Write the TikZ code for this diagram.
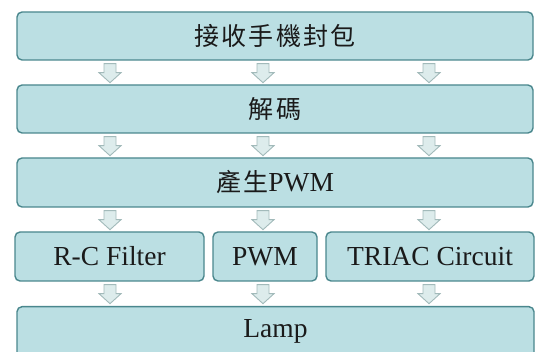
\documentclass[tikz,border=0pt]{standalone}
\usepackage{fontspec}
\setmainfont{Liberation Serif}
\newfontfamily\cjk[LetterSpace=9]{Noto Sans CJK TC}
\usetikzlibrary{calc}
\definecolor{boxfill}{HTML}{BBDFE3}
\definecolor{boxline}{HTML}{4A878D}
\definecolor{arrfill}{HTML}{DDECEC}
\definecolor{arrline}{HTML}{A2BABA}
\definecolor{txt}{HTML}{1A1A1A}
\tikzset{
  box/.style={draw=boxline, fill=boxfill, line width=1.4pt, rounded corners=5pt,
    inner sep=0pt, text=txt, font=\fontsize{27.5pt}{30pt}\selectfont},
  cjkfont/.style={},
  blockarrow/.pic={
    \draw[draw=arrline, fill=arrfill, line width=0.9pt, line join=miter]
      (-6,0) -- (6,0) -- (6,9) -- (11,9) -- (0,19) -- (-11,9) -- (-6,9) -- cycle;
  }
}
\newcommand{\cjkt}[1]{{\cjk\fontsize{25pt}{28pt}\selectfont #1}}
\begin{document}
\begin{tikzpicture}[x=1pt,y=-1pt]
\useasboundingbox (0,0) rectangle (539,352);
\clip (0,0) rectangle (539,352);
\node[box, minimum width=516pt, minimum height=48pt] (b1) at (275,36) {\cjkt{接收手機封包}};
\node[box, minimum width=516pt, minimum height=48pt] (b2) at (275,109) {\cjkt{解碼}};
\node[box, minimum width=516pt, minimum height=49pt] (b3) at (275,182.5) {\cjkt{產生}PWM};
\node[box, minimum width=189pt, minimum height=49pt] (rc) at (109.5,256.5) {R-C Filter};
\node[box, minimum width=104pt, minimum height=49pt] (pwm) at (265,256.5) {PWM};
\node[box, minimum width=208pt, minimum height=49pt] (tri) at (430,256.5) {TRIAC Circuit};
\node[box, minimum width=517pt, minimum height=56pt, anchor=north] (lamp) at (275.5,306) {};
\node[text=txt, font=\fontsize{27.5pt}{30pt}\selectfont] (lamptxt) at (275.5,331) {Lamp};
\coordinate (c1) at (110,0);
\coordinate (c2) at (263,0);
\coordinate (c3) at (429,0);
\foreach \r in {b1,b2,b3} {
  \foreach \c in {c1,c2,c3} {
    \pic at ($(\r.south -| \c)+(0,3)$) {blockarrow};
  }
}
\pic at ($(rc.south -| c1)+(0,3)$) {blockarrow};
\pic at ($(pwm.south -| c2)+(0,3)$) {blockarrow};
\pic at ($(tri.south -| c3)+(0,3)$) {blockarrow};
\end{tikzpicture}
\end{document}
